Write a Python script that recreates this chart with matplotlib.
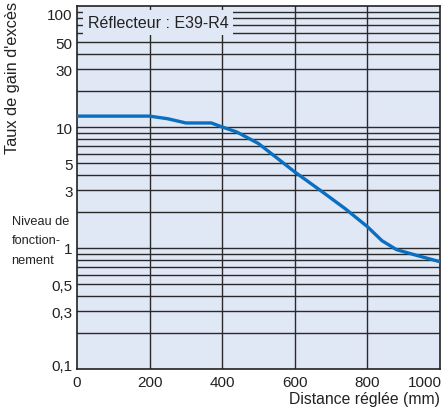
import matplotlib
matplotlib.use('Agg')
import matplotlib.pyplot as plt
import matplotlib.transforms as mtransforms
from matplotlib.ticker import FixedLocator, NullFormatter

plt.rcParams['font.family'] = ['Liberation Sans', 'DejaVu Sans']

# Reading of the curve off the reference picture
distance = [0, 200, 250, 300, 370, 400, 440, 500, 600, 670, 740, 800, 840, 880, 935, 1000]
gain = [12.3, 12.3, 11.7, 10.8, 10.8, 10.0, 9.1, 7.3, 4.25, 3.0, 2.1, 1.5, 1.15, 0.97, 0.87, 0.77]

x_ticks = [0, 200, 400, 600, 800, 1000]
y_ticks = [0.1, 0.3, 0.5, 1, 3, 5, 10, 30, 50, 100]
y_tick_labels = ['0,1', '0,3', '0,5', '1', '3', '5', '10', '30', '50', '100']
y_grid = [0.2, 0.3, 0.4, 0.5, 0.6, 0.7, 0.8, 0.9, 1,
          2, 3, 4, 5, 6, 7, 8, 9, 10,
          20, 30, 40, 50, 60, 70, 80, 90]
level_lines = ['Niveau de', 'fonction-', 'nement']

bg = '#e0e7f5'
blue = '#0a6fc0'
ink = '#222222'

fig = plt.figure(figsize=(4.43, 4.10), dpi=100)
ax = fig.add_axes([0.1738, 0.0976, 0.8194, 0.8853])
ax.set_facecolor(bg)
ax.set_yscale('log')
ax.set_xlim(0, 1000)
ax.set_ylim(0.1, 100)

# grid
for v in y_grid:
    ax.axhline(v, color='#2a2a2a', lw=1.0, zorder=1)
for v in [200, 400, 600, 800]:
    ax.axvline(v, color='#2a2a2a', lw=1.0, zorder=1)

ax.plot(distance, gain, color=blue, lw=2.4, solid_capstyle='butt', zorder=3)

ax.set_xticks(x_ticks)
ax.set_xticklabels([str(t) for t in x_ticks])
ax.yaxis.set_major_locator(FixedLocator(y_ticks))
ax.set_yticklabels(y_tick_labels)
ax.yaxis.set_minor_formatter(NullFormatter())
ax.tick_params(which='both', length=0, labelsize=11, colors=ink, pad=3)
ax.tick_params(axis='x', pad=4)

xl = ax.get_xticklabels()
xl[-1].set_horizontalalignment('right')
xl[-1].set_transform(xl[-1].get_transform() + mtransforms.ScaledTranslation(0.02, 0, fig.dpi_scale_trans))
yl = ax.get_yticklabels()
yl[-1].set_transform(yl[-1].get_transform() + mtransforms.ScaledTranslation(0, -0.07, fig.dpi_scale_trans))
yl[0].set_transform(yl[0].get_transform() + mtransforms.ScaledTranslation(0, 0.04, fig.dpi_scale_trans))

for s in ax.spines.values():
    s.set_linewidth(1.2)
    s.set_color(ink)

ax.text(0.03, 0.975, 'Réflecteur : E39-R4', transform=ax.transAxes, fontsize=11.5,
        color=ink, va='top', ha='left', zorder=5,
        bbox=dict(boxstyle='square,pad=0.3', fc=bg, ec='none'))

ax.set_xlabel('Distance réglée (mm)', fontsize=11.3, color=ink)
ax.xaxis.set_label_coords(1.0, -0.06)
ax.xaxis.label.set_horizontalalignment('right')

fig.text(0.028, 0.995, "Taux de gain d'excès", rotation=90, va='top', ha='center',
         fontsize=11.8, color=ink)
for i, line in enumerate(level_lines):
    fig.text(0.026, 1 - (222 + 19.5 * i) / 410, line, va='center', ha='left',
             fontsize=9.2, color=ink)

fig.savefig('out.png', dpi=100)
